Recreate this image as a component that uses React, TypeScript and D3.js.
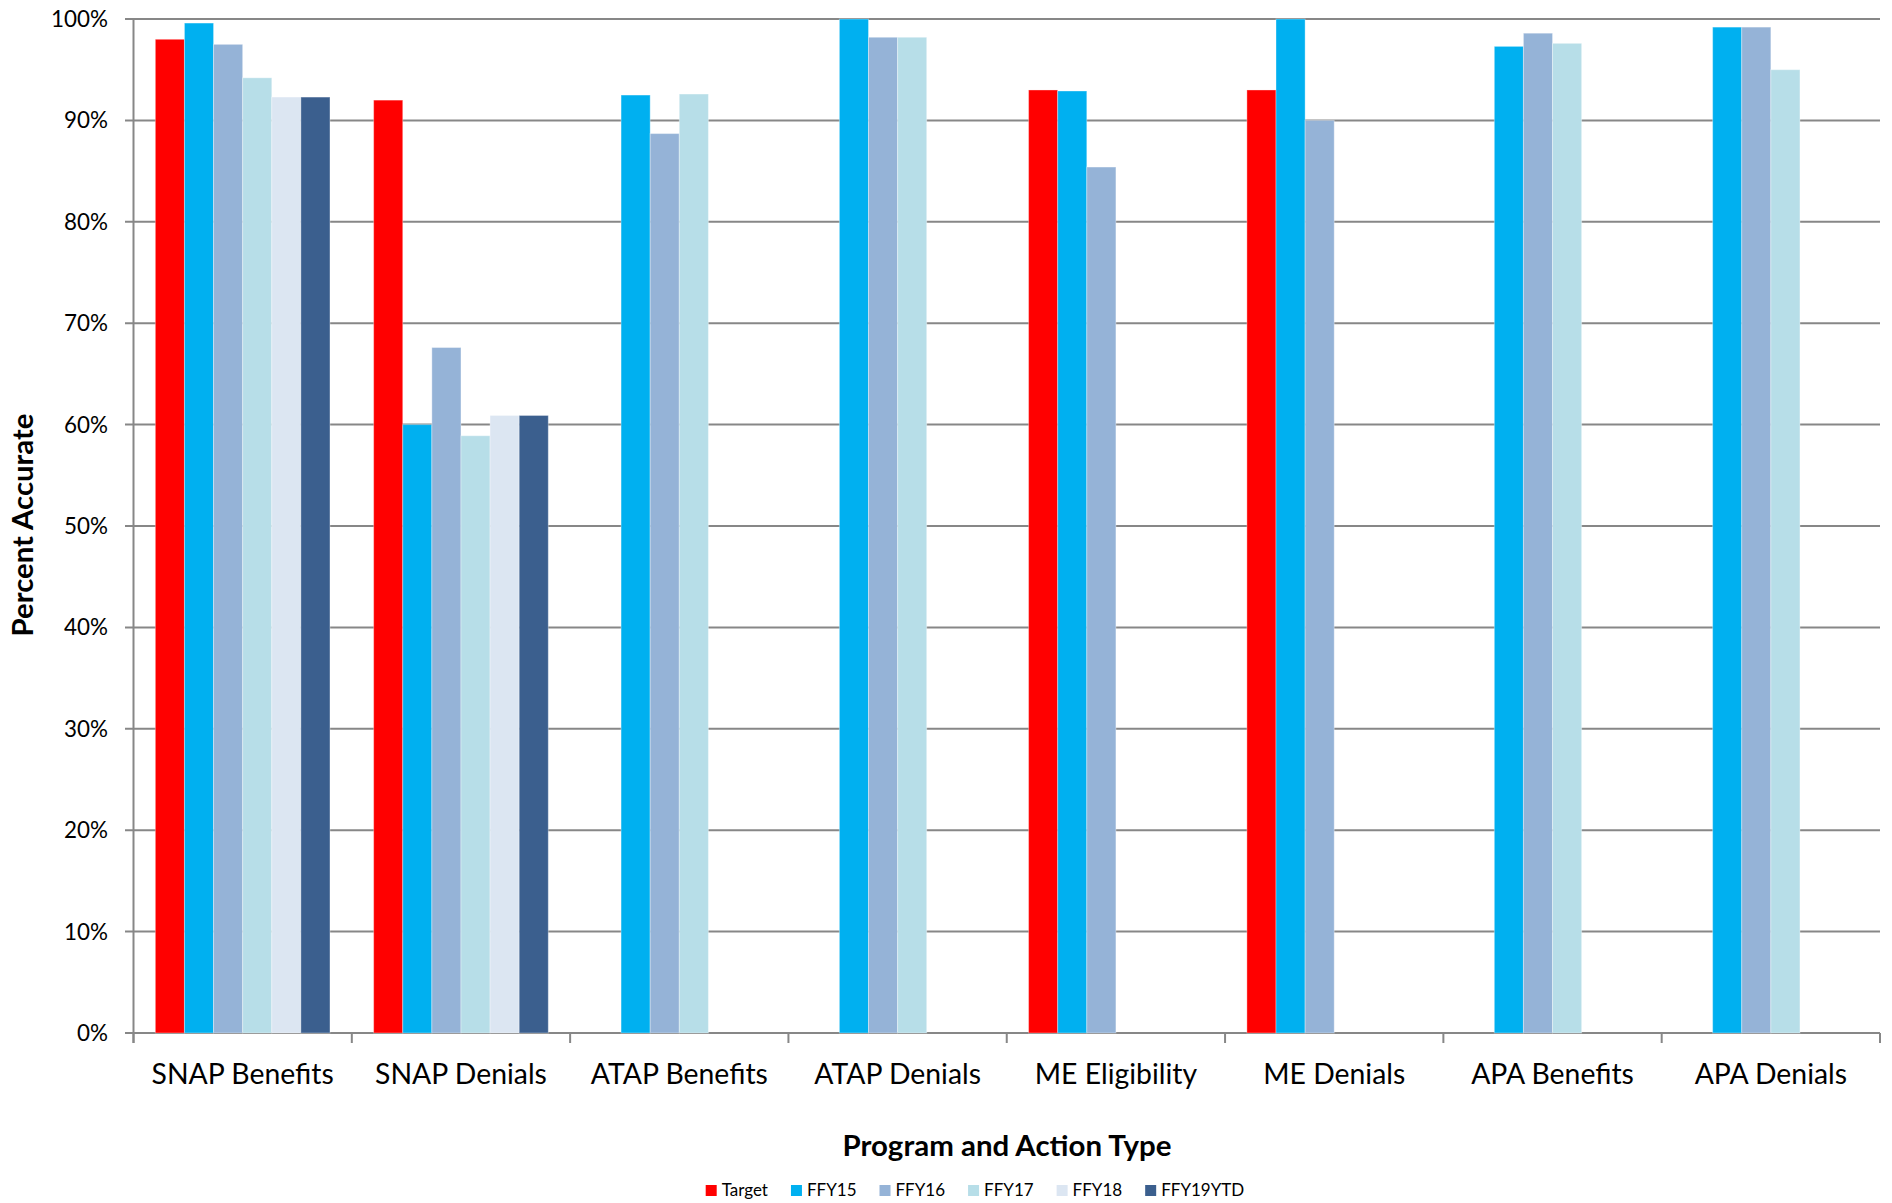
import React, { useEffect } from "react";
import * as d3 from "d3";

const categories = [
  "SNAP Benefits",
  "SNAP Denials",
  "ATAP Benefits",
  "ATAP Denials",
  "ME Eligibility",
  "ME Denials",
  "APA Benefits",
  "APA Denials",
];

const seriesNames = ["Target", "FFY15", "FFY16", "FFY17", "FFY18", "FFY19YTD"];
const seriesColors = ["#FF0000", "#00B0F0", "#95B3D7", "#B7DEE8", "#DCE6F2", "#3B5F8E"];

// values in percent, null = no bar
const target = [98, 92, null, null, 93, 93, null, null];
const ffy15 = [99.6, 60.0, 92.5, 100, 92.9, 100, 97.3, 99.2];
const ffy16 = [97.5, 67.6, 88.7, 98.2, 85.4, 90.0, 98.6, 99.2];
const ffy17 = [94.2, 58.9, 92.6, 98.2, null, null, 97.6, 95.0];
const ffy18 = [92.3, 60.9, null, null, null, null, null, null];
const ffy19ytd = [92.3, 60.9, null, null, null, null, null, null];

const seriesValues = [target, ffy15, ffy16, ffy17, ffy18, ffy19ytd];

const yTicks = [0, 10, 20, 30, 40, 50, 60, 70, 80, 90, 100];

const xTitle = "Program and Action Type";
const yTitle = "Percent Accurate";

const W = 1892;
const H = 1203;
const FONT = "Lato, 'Open Sans', sans-serif";

function measure(text: string, font: string) {
  const c = document.createElement("canvas");
  const ctx = c.getContext("2d")!;
  ctx.font = font;
  return ctx.measureText(text).width;
}

function fitSize(text: string, targetWidth: number, weight: string) {
  const w = measure(text, `${weight} 100px ${FONT}`);
  return w > 0 ? (100 * targetWidth) / w : 28;
}

export default function App() {
  useEffect(() => {
    document.body.style.margin = "0";
  }, []);

  const left = 133.5;
  const right = 1880;
  const top = 19;
  const bottom = 1033;

  const x = d3.scaleBand<string>().domain(categories).range([left, right]).paddingInner(0).paddingOuter(0);
  const y = d3.scaleLinear().domain([0, 100]).range([bottom, top]);
  const band = x.bandwidth();
  const barW = band / (seriesNames.length + 1.5);
  const groupOffset = (band - barW * seriesNames.length) / 2;

  const gridColor = "#878787";

  const xTitleSize = fitSize(xTitle, 331, "bold");
  const yTitleSize = fitSize(yTitle, 224, "bold");
  const xLabelSize = fitSize("SNAP Benefits", 183, "normal");
  const yLabelSize = fitSize("100%", 57, "normal");

  // legend layout
  const legendFont = `17px ${FONT}`;
  const legendItems: { name: string; color: string; x: number }[] = [];
  {
    const sq = 11, gap = 5, spacing = 23;
    const widths = seriesNames.map((n) => measure(n, legendFont));
    const total = widths.reduce((a, w) => a + sq + gap + w, 0) + spacing * (seriesNames.length - 1);
    let cx = 975 - total / 2;
    seriesNames.forEach((n, i) => {
      legendItems.push({ name: n, color: seriesColors[i], x: cx });
      cx += sq + gap + widths[i] + spacing;
    });
  }

  const boundaries = [...categories.map((c) => x(c)!), right];

  return (
    <svg width={W} height={H} style={{ display: "block", background: "#fff" }} fontFamily={FONT}>
      {/* gridlines */}
      {yTicks.map((t) => (
        <line key={"g" + t} x1={125} x2={right} y1={y(t)} y2={y(t)} stroke={gridColor} strokeWidth={2} />
      ))}
      {/* y axis line */}
      <line x1={left} x2={left} y1={top} y2={bottom + 10} stroke={gridColor} strokeWidth={2} />
      {/* x ticks */}
      {boundaries.map((b, i) => (
        <line key={"xt" + i} x1={b} x2={b} y1={bottom} y2={bottom + 10} stroke={gridColor} strokeWidth={2} />
      ))}
      {/* bars */}
      {categories.map((c, ci) => (
        <g key={c}>
          {seriesValues.map((vals, si) => {
            const v = vals[ci];
            if (v === null || v === undefined) return null;
            const bx = x(c)! + groupOffset + si * barW;
            return (
              <rect
                key={si}
                x={bx}
                y={y(v)}
                width={barW}
                height={y(0) - y(v)}
                fill={seriesColors[si]}
                stroke="rgba(255,255,255,0.35)"
                strokeWidth={1}
              />
            );
          })}
        </g>
      ))}
      {/* y tick labels */}
      {yTicks.map((t) => (
        <text key={"yl" + t} x={108} y={y(t)} dy="0.36em" textAnchor="end" fontSize={yLabelSize} fill="#000">
          {t}%
        </text>
      ))}
      {/* x labels */}
      {categories.map((c) => (
        <text key={"xl" + c} x={x(c)! + band / 2} y={1084} textAnchor="middle" fontSize={xLabelSize} fill="#000">
          {c}
        </text>
      ))}
      {/* axis titles */}
      <text x={1007} y={1156} textAnchor="middle" fontSize={xTitleSize} fontWeight="bold" fill="#000">
        {xTitle}
      </text>
      <text
        transform={`translate(33, 525) rotate(-90)`}
        textAnchor="middle"
        fontSize={yTitleSize}
        fontWeight="bold"
        fill="#000"
      >
        {yTitle}
      </text>
      {/* legend */}
      {legendItems.map((it) => (
        <g key={it.name}>
          <rect x={it.x} y={1185} width={11} height={11} fill={it.color} />
          <text x={it.x + 16} y={1196} fontSize={17} fill="#000">
            {it.name}
          </text>
        </g>
      ))}
    </svg>
  );
}
